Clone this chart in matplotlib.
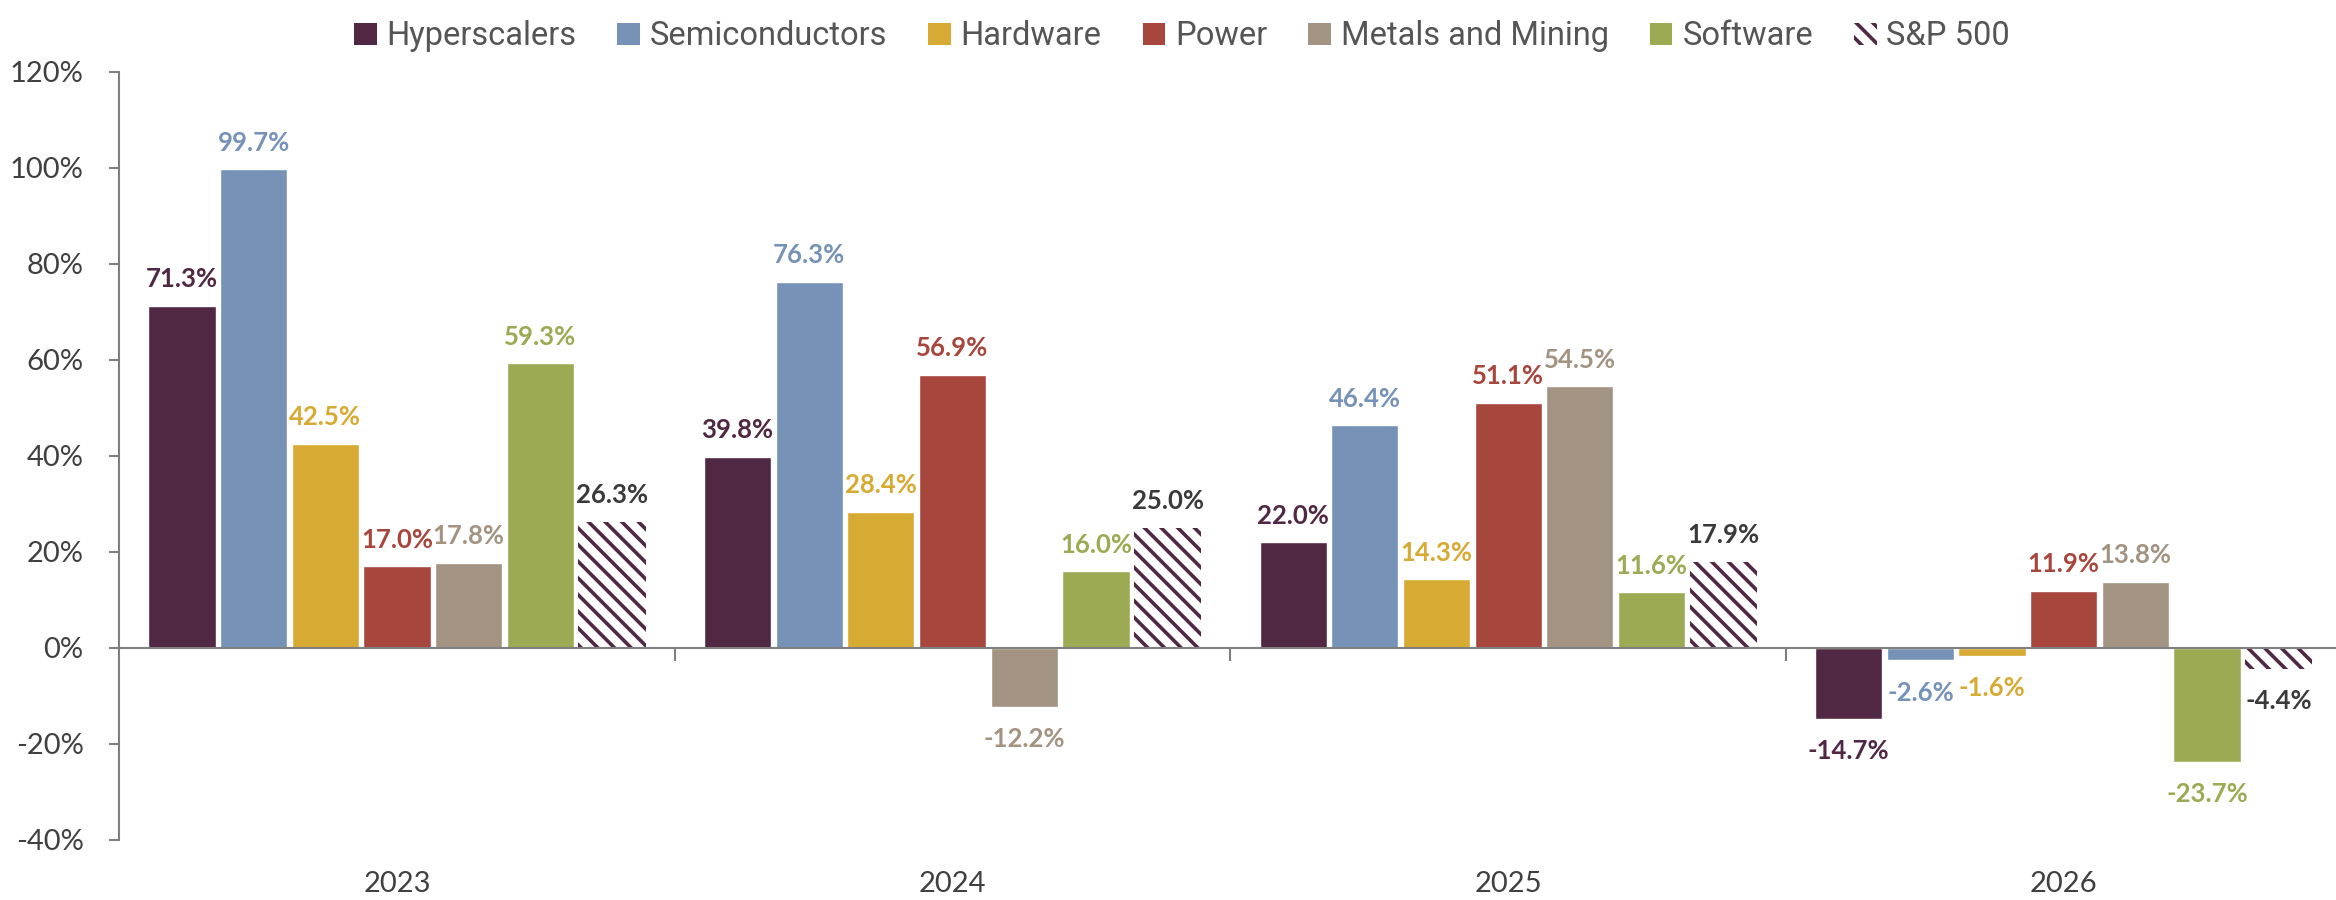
import numpy as np
import matplotlib.pyplot as plt
from matplotlib.patches import Patch

years = ['2023', '2024', '2025', '2026']
series = ['Hyperscalers', 'Semiconductors', 'Hardware', 'Power',
          'Metals and Mining', 'Software', 'S&P 500']

hyperscalers = [71.3, 39.8, 22.0, -14.7]
semiconductors = [99.7, 76.3, 46.4, -2.6]
hardware = [42.5, 28.4, 14.3, -1.6]
power = [17.0, 56.9, 51.1, 11.9]
metals = [17.8, -12.2, 54.5, 13.8]
software = [59.3, 16.0, 11.6, -23.7]
sp500 = [26.3, 25.0, 17.9, -4.4]

values = [hyperscalers, semiconductors, hardware, power, metals, software, sp500]
colors = ['#512843', '#7692B7', '#D7AA33', '#A7463D', '#A39382', '#9CAA53', '#512843']
label_colors = colors[:-1] + ['#3A3A3A']
HATCH = '\\\\'

plt.rcParams['hatch.linewidth'] = 2.6

fig = plt.figure(figsize=(23.36, 9), dpi=100)
ax = fig.add_axes([0.051, 0.0667, 0.949, 0.8533])

x = np.arange(len(years))
pitch = 0.129
width = 0.121
offsets = (np.arange(len(series)) - 3) * pitch

for i, (name, vals) in enumerate(zip(series, values)):
    xs = x + offsets[i]
    if name == 'S&P 500':
        bars = ax.bar(xs, vals, width, facecolor='white', edgecolor=colors[i],
                      hatch=HATCH, linewidth=0, zorder=2)
    else:
        bars = ax.bar(xs, vals, width, color=colors[i], edgecolor='white',
                      linewidth=1, zorder=2)
    for b, v in zip(bars, vals):
        ax.annotate(f'{v:.1f}%', (b.get_x() + b.get_width() / 2, v),
                    xytext=(0, 10.5 if v >= 0 else -14.5), textcoords='offset points',
                    ha='center', va='bottom' if v >= 0 else 'top',
                    fontsize=18.5, fontweight='bold', family='Lato',
                    color=label_colors[i])

ax.set_xlim(-0.5, 3.49)
ax.set_ylim(-40, 120)
ax.set_yticks(np.arange(-40, 121, 20))
ax.set_yticklabels([f'{t}%' for t in range(-40, 121, 20)], fontsize=21,
                   family='Lato', color='#404040')

# zero line doubles as the category axis, boundaries ticked downward
ax.spines['bottom'].set_position(('data', 0))
ax.spines['top'].set_visible(False)
ax.spines['right'].set_visible(False)
for s in ('left', 'bottom'):
    ax.spines[s].set_color('#7F7F7F')
    ax.spines[s].set_linewidth(1.5)
ax.set_xticks(x[:-1] + 0.5)
ax.set_xticklabels([])
ax.tick_params(axis='x', length=9, width=1.5, color='#7F7F7F', direction='out')
ax.tick_params(axis='y', length=7.5, width=1.5, color='#7F7F7F', pad=18)

for xi, yr in zip(x, years):
    ax.text(xi, -0.057, yr, transform=ax.get_xaxis_transform(), ha='center',
            va='center', fontsize=21, family='Lato', color='#404040')

handles = [Patch(facecolor='white' if n == 'S&P 500' else c,
                 edgecolor=c, linewidth=0, hatch=HATCH if n == 'S&P 500' else None)
           for n, c in zip(series, colors)]
fig.legend(handles, series, loc='upper center', bbox_to_anchor=(0.506, 1.01),
           ncol=7, frameon=False, handlelength=0.7,
           handleheight=0.7, handletextpad=0.3, columnspacing=1.25,
           prop={'family': 'Roboto', 'size': 23.5},
           labelcolor='#555555')

fig.savefig('out.png', dpi=100)
